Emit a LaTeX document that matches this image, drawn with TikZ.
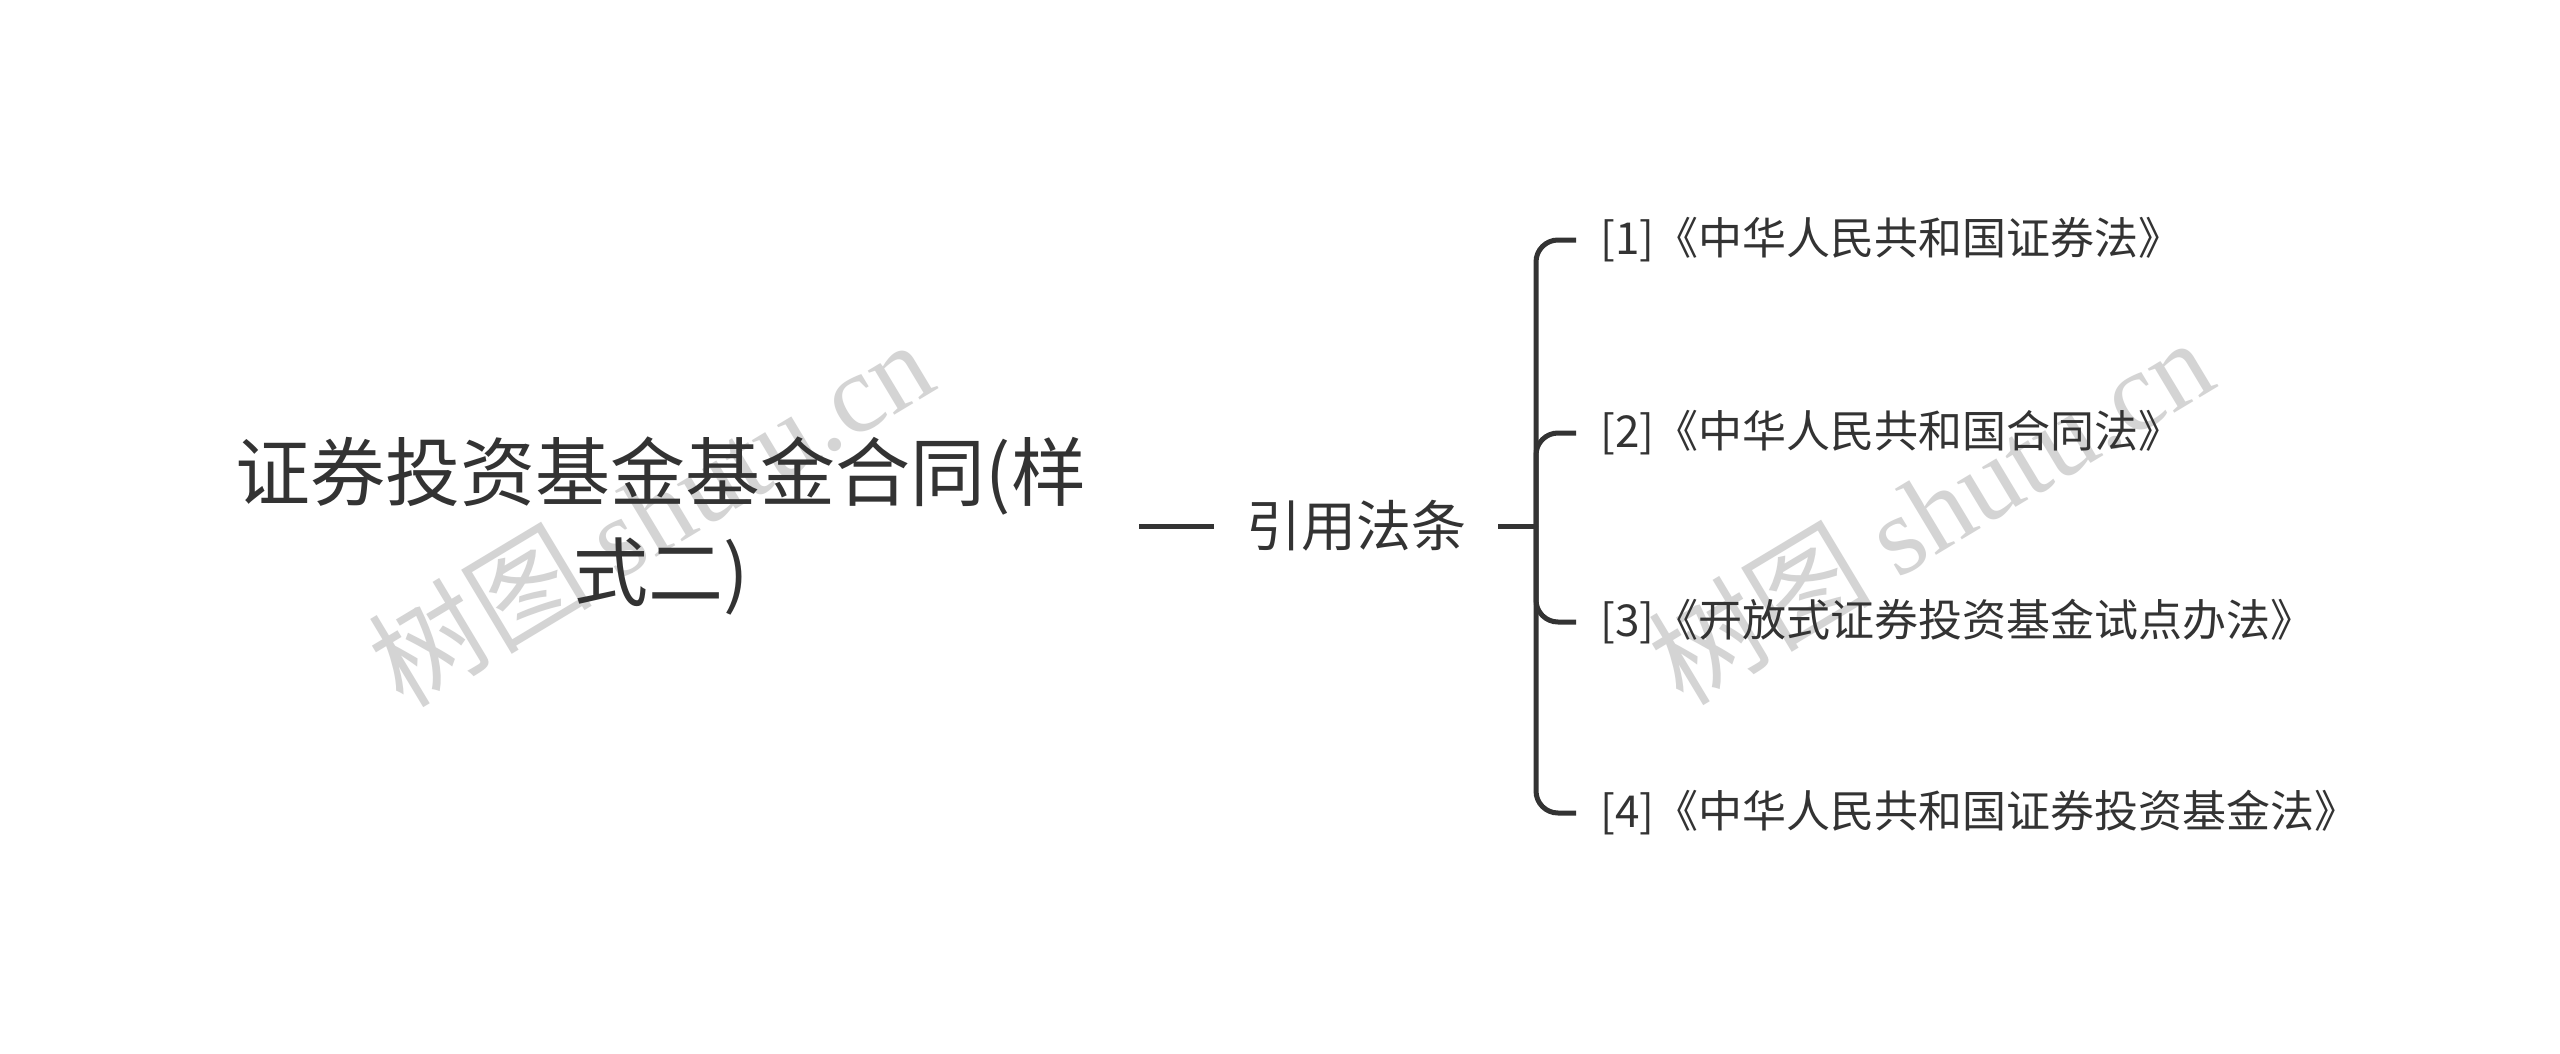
\documentclass[tikz,border=0pt]{standalone}
\usepackage{fontspec}
\setmainfont{Noto Sans CJK SC}
\newfontfamily\wmlatin{Liberation Serif}
\newfontfamily\wmcjk{Noto Sans CJK SC}
\definecolor{ink}{HTML}{333333}
\definecolor{wm}{HTML}{D4D4D4}
\begin{document}
\begin{tikzpicture}[x=1pt,y=-1pt,
  conn/.style={draw=ink,line width=5pt},
  rootbox/.style={text=ink,align=center,inner xsep=53pt,font=\fontsize{75}{100}\selectfont},
  midbox/.style={text=ink,inner xsep=32pt,font=\fontsize{55}{64}\selectfont},
  leafbox/.style={text=ink,anchor=west,inner xsep=24pt,font=\fontsize{44}{54}\selectfont},
  wmark/.style={text=wm,rotate=31,font=\fontsize{112}{120}\selectfont}]
\useasboundingbox (0,0) rectangle (2560,1053);
\fill[white] (0,0) rectangle (2560,1053);
% watermarks
\node[wmark] (wm1) at (650,512) {{\wmcjk 树图} {\wmlatin shutu.cn}};
\node[wmark] (wm2) at (1930,510) {{\wmcjk 树图} {\wmlatin shutu.cn}};
% nodes
\node[rootbox] (root) at (661,526) {证券投资基金基金合同(样\\式二)};
\node[midbox] (mid) at (1356,526) {引用法条};
\coordinate (j) at (1536,526);
\node[leafbox] (l1) at (1576,240) {[1]《中华人民共和国证券法》};
\node[leafbox] (l2) at (1576,433) {[2]《中华人民共和国合同法》};
\node[leafbox] (l3) at (1576,622) {[3]《开放式证券投资基金试点办法》};
\node[leafbox] (l4) at (1576,813) {[4]《中华人民共和国证券投资基金法》};
% connectors
\draw[conn] (root.east) -- (mid.west);
\draw[conn] (mid.east) -- (j);
\foreach \l in {l1,l2,l3,l4}
  \draw[conn,rounded corners=22pt] (j) |- (\l.west);
\end{tikzpicture}
\end{document}
